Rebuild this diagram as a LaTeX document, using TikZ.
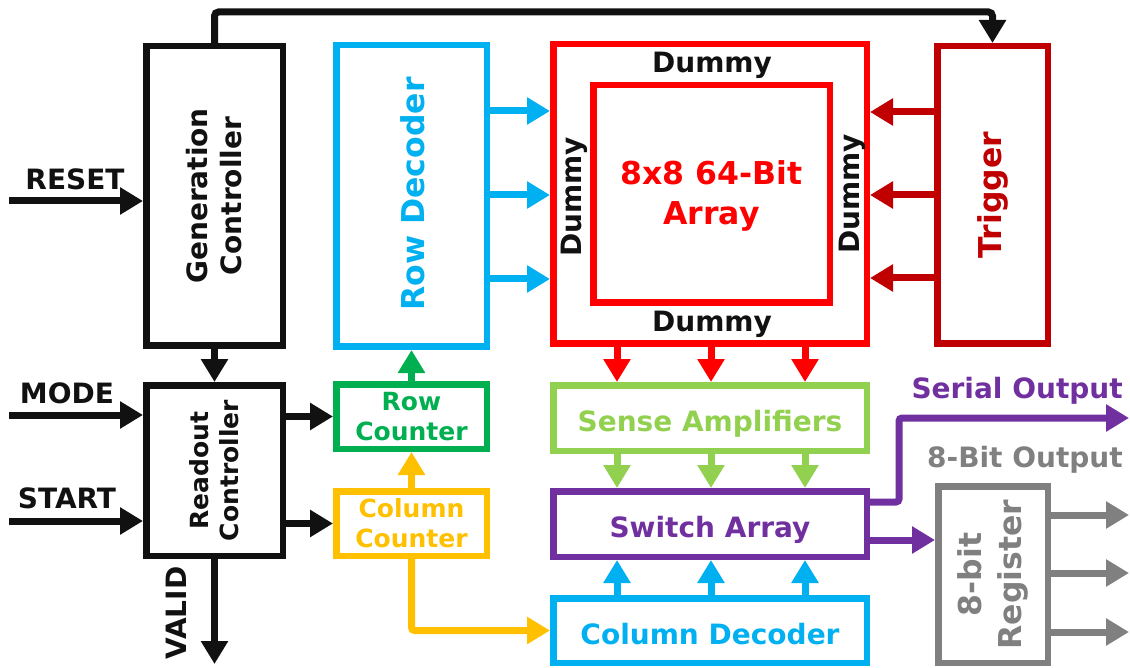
\documentclass[tikz,border=0pt]{standalone}
\usepackage{fontspec}
\setmainfont{DejaVu Sans}
\usetikzlibrary{arrows.meta}
\definecolor{ctrlblack}{HTML}{111111}
\definecolor{decblue}{HTML}{00B0F0}
\definecolor{arrayred}{HTML}{FF0000}
\definecolor{trigred}{HTML}{C00000}
\definecolor{cntgreen}{HTML}{00B050}
\definecolor{cntyellow}{HTML}{FFC000}
\definecolor{ampgreen}{HTML}{92D050}
\definecolor{swpurple}{HTML}{7030A0}
\definecolor{reggray}{HTML}{808080}
\begin{document}
\begin{tikzpicture}[x=1pt,y=-1pt,
    box/.style={draw,line width=6.5pt,inner sep=0pt,outer sep=3.25pt},
    txt/.style={font=\fontsize{28}{34}\selectfont\bfseries,align=center,inner sep=0pt},
    bigtxt/.style={font=\fontsize{31.5}{40}\selectfont\bfseries,align=center,inner sep=0pt},
    smalltxt/.style={font=\fontsize{25}{30}\selectfont\bfseries,align=center,inner sep=0pt},
    arr/.style={line width=7pt,-{Triangle[length=23pt,width=26pt]}},
  ]
  \useasboundingbox (0,0) rectangle (1130,668);
  % blocks
  \node [box,ctrlblack,minimum width=136.5pt,minimum height=299.5pt] (gen) at (214.5,196) {};
  \node [txt,ctrlblack,rotate=90] (gen text) at (gen) {Generation\\Controller};
  \node [box,ctrlblack,minimum width=136.5pt,minimum height=170.5pt] (readout) at (214.5,470.5) {};
  \node [smalltxt,ctrlblack,rotate=90] (readout text) at (readout) {Readout\\Controller};
  \node [box,decblue,minimum width=150.5pt,minimum height=301.5pt] (rowdec) at (411.5,196) {};
  \node [bigtxt,decblue,rotate=90] (rowdec text) at (413,194) {Row Decoder};
  \node [box,smalltxt,cntgreen,minimum width=150.5pt,minimum height=64.5pt] (rowcnt) at (411.5,416.5) {Row\\Counter};
  \node [box,smalltxt,cntyellow,minimum width=150.5pt,minimum height=64.5pt] (colcnt) at (411.5,523.5) {Column\\Counter};
  \node [box,arrayred,minimum width=313.5pt,minimum height=299.5pt] (array) at (710,194) {};
  \node [box,arrayred,minimum width=236.5pt,minimum height=217.5pt] (core) at (711.5,194) {};
  \node [bigtxt,arrayred] (core text) at (711.5,196) {8x8 64-Bit\\Array};
  \node [txt,ctrlblack,anchor=base] (dummy top) at (712,73) {Dummy};
  \node [txt,ctrlblack,anchor=base] (dummy bottom) at (712,331) {Dummy};
  \node [txt,ctrlblack,rotate=90] (dummy left) at (574,197) {Dummy};
  \node [txt,ctrlblack,rotate=90] (dummy right) at (852,194) {Dummy};
  \node [box,trigred,minimum width=110.5pt,minimum height=297.5pt] (trigger) at (992.5,195) {};
  \node [bigtxt,trigred,rotate=90] (trigger text) at (trigger) {Trigger};
  \node [box,ampgreen,minimum width=313.5pt,minimum height=65.5pt] (sense) at (710,418) {};
  \node [txt,ampgreen,anchor=base] (sense text) at (710,431) {Sense Amplifiers};
  \node [box,swpurple,minimum width=313.5pt,minimum height=65.5pt] (switch) at (710,524) {};
  \node [txt,swpurple,anchor=base] (switch text) at (710,537) {Switch Array};
  \node [box,decblue,minimum width=313.5pt,minimum height=64.5pt] (coldec) at (710,630.5) {};
  \node [txt,decblue,anchor=base] (coldec text) at (710,644) {Column Decoder};
  \node [box,reggray,minimum width=109.5pt,minimum height=176.5pt] (reg) at (993,574.5) {};
  \node [bigtxt,reggray,rotate=90] (reg text) at (reg) {8-bit\\Register};
  % inputs and outputs
  \coordinate (reset in) at (9,201);
  \coordinate (mode in) at (9,415);
  \coordinate (start in) at (9,521);
  \coordinate (valid out) at (214.5,664);
  \coordinate (serial out) at (1129,418);
  \node [txt,ctrlblack,anchor=base] (reset label) at (75,190) {RESET};
  \node [txt,ctrlblack,anchor=base] (mode label) at (67,403) {MODE};
  \node [txt,ctrlblack,anchor=base] (start label) at (67,508) {START};
  \node [txt,ctrlblack,rotate=90] (valid label) at (176,613) {VALID};
  \node [txt,swpurple,anchor=base east] (serial label) at (1123,398) {Serial Output};
  \node [txt,reggray,anchor=base east] (parallel label) at (1123,467) {8-Bit Output};
  % connections
  \draw [arr,ctrlblack] (reset in) -- (gen.west |- reset in);
  \draw [arr,ctrlblack] (mode in) -- (readout.west |- mode in);
  \draw [arr,ctrlblack] (start in) -- (readout.west |- start in);
  \draw [arr,ctrlblack] (gen.south) -- (readout.north);
  \draw [arr,ctrlblack] (readout.south) -- (valid out);
  \draw [arr,ctrlblack] (readout.east |- rowcnt.west) -- (rowcnt.west);
  \draw [arr,ctrlblack] (readout.east |- colcnt.west) -- (colcnt.west);
  \draw [arr,ctrlblack,rounded corners=4pt]
    (gen.north)
    |- (trigger.north |- 0,12)
    -- (trigger.north)
  ;
  \draw [arr,cntgreen] (rowcnt.north) -- (rowdec.south);
  \draw [arr,cntyellow] (colcnt.north) -- (rowcnt.south);
  \draw [arr,cntyellow,rounded corners=3pt] (colcnt.south) |- (coldec.west);
  \foreach \y in {111,195,279}{
    \draw [arr,decblue] (rowdec.east |- 0,\y) -- (array.west |- 0,\y);
  }
  \foreach \y in {112,195,278}{
    \draw [arr,trigred] (trigger.west |- 0,\y) -- (array.east |- 0,\y);
  }
  \foreach \x in {617,711,805}{
    \draw [arr,arrayred] (array.south -| \x,0) -- (sense.north -| \x,0);
    \draw [arr,ampgreen] (sense.south -| \x,0) -- (switch.north -| \x,0);
    \draw [arr,decblue] (coldec.north -| \x,0) -- (switch.south -| \x,0);
  }
  \draw [arr,swpurple,rounded corners=3pt]
    (switch.east |- 0,502)
    -| (899,418)
    -- (serial out)
  ;
  \draw [arr,swpurple] (switch.east |- 0,540) -- (reg.west |- 0,540);
  \foreach \y [count=\i] in {515,573,632}{
    \coordinate (bit out\i) at (1129,\y);
    \draw [arr,reggray] (reg.east |- bit out\i) -- (bit out\i);
  }
\end{tikzpicture}
\end{document}
